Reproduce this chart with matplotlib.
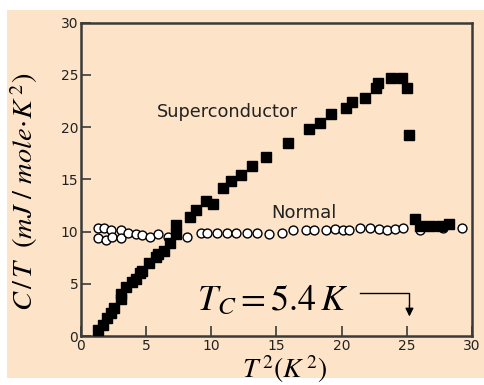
import matplotlib
matplotlib.use('Agg')
import matplotlib.pyplot as plt
from matplotlib.patches import Rectangle

plt.rcParams['mathtext.fontset'] = 'stix'

# superconductor C/T vs T^2
sc_x = [1.27, 1.65, 2.0, 2.28, 2.55, 3.05, 3.05, 3.45, 3.95, 4.2, 4.5, 4.65,
        5.25, 5.75, 5.9, 6.4, 6.8, 7.3, 7.3, 8.35, 8.85, 9.6, 10.1,
        10.9, 11.5, 12.3, 13.1, 14.2, 15.9, 17.5, 18.3, 19.2, 20.3, 20.8,
        21.8, 22.6, 22.8, 23.8, 24.6, 25.0, 25.2, 25.6, 26.0, 26.8, 27.6, 28.2]
sc_y = [0.6, 1.1, 1.7, 2.2, 2.7, 3.5, 4.0, 4.7, 5.2, 5.5, 6.0, 6.2,
        7.0, 7.6, 7.8, 8.1, 8.9, 9.8, 10.6, 11.4, 12.1, 12.9, 12.6,
        14.2, 14.8, 15.4, 16.3, 17.1, 18.5, 19.8, 20.4, 21.2, 21.8, 22.4,
        22.8, 23.7, 24.2, 24.7, 24.7, 23.7, 19.2, 11.2, 10.5, 10.5, 10.5, 10.7]

# normal state C/T vs T^2
n_x = [1.28, 1.8, 2.3, 3.1, 1.28, 1.9, 2.4, 3.1, 3.6, 4.2, 4.7, 5.26, 5.9,
       6.7, 8.1, 9.2, 9.7, 10.4, 11.2, 11.9, 12.7, 13.5, 14.4, 15.4, 16.3,
       17.3, 17.9, 18.8, 19.5, 20.1, 20.6, 21.4, 22.2, 22.9, 23.5, 24.1,
       24.7, 26.0, 27.8, 29.2]
n_y = [10.3, 10.3, 10.15, 10.15, 9.4, 9.15, 9.45, 9.35, 9.85, 9.75, 9.7,
       9.45, 9.75, 9.45, 9.45, 9.85, 9.9, 9.9, 9.9, 9.9, 9.9, 9.9, 9.75,
       9.9, 10.15, 10.1, 10.1, 10.1, 10.2, 10.1, 10.1, 10.3, 10.3, 10.2,
       10.1, 10.2, 10.3, 10.1, 10.3, 10.3]

bg = '#fde3c8'
axc = '#3a3a3a'

fig = plt.figure(figsize=(4.85, 3.85), dpi=100, facecolor='white')
fig.patches.append(Rectangle((7/485, 7/385), 1, 368/385, transform=fig.transFigure,
                             facecolor=bg, edgecolor='none', zorder=-10))
ax = fig.add_axes([81/485, 49/385, 391/485, 313.5/385])
ax.set_facecolor(bg)

ax.plot(n_x, n_y, 'o', ms=6.4, mfc='white', mec='black', mew=1.0, zorder=3)
ax.plot(sc_x, sc_y, 's', ms=6.6, mfc='black', mec='black', zorder=4)

ax.set_xlim(0, 30)
ax.set_ylim(0, 30)
ax.set_xticks(range(0, 31, 5))
ax.set_yticks(range(0, 31, 5))
for s in ax.spines.values():
    s.set_color(axc)
    s.set_linewidth(1.8)
ax.tick_params(direction='in', length=7, width=1.2, color=axc, labelsize=10,
               labelcolor='#222222', pad=2)

ax.set_xlabel(r'$T^{\,2}(K^{\,2})$', fontsize=20)
ax.xaxis.set_label_coords(0.52, -0.055)
ax.set_ylabel(r'$C\,/\,T\ \ (mJ\ /\ mole\!\cdot\! K^{\,2})$', fontsize=20.5)
ax.yaxis.set_label_coords(-0.105, 0.46)

ax.text(5.8, 21.4, 'Superconductor', fontsize=12.8, va='center', ha='left', color='#222222')
ax.text(14.6, 11.8, 'Normal', fontsize=13, va='center', ha='left', color='#222222')

ax.text(14.7, 3.4, r'$T_C = 5.4\,K$', fontsize=26, ha='center', va='center')
ax.plot([21.4, 25.2, 25.2], [4.1, 4.1, 3.0], color='black', lw=1.0)
ax.annotate('', xy=(25.2, 1.6), xytext=(25.2, 3.2),
            arrowprops=dict(arrowstyle='-|>', color='black', lw=1.0,
                            mutation_scale=12))

fig.savefig('out.png', dpi=100, facecolor=fig.get_facecolor())
